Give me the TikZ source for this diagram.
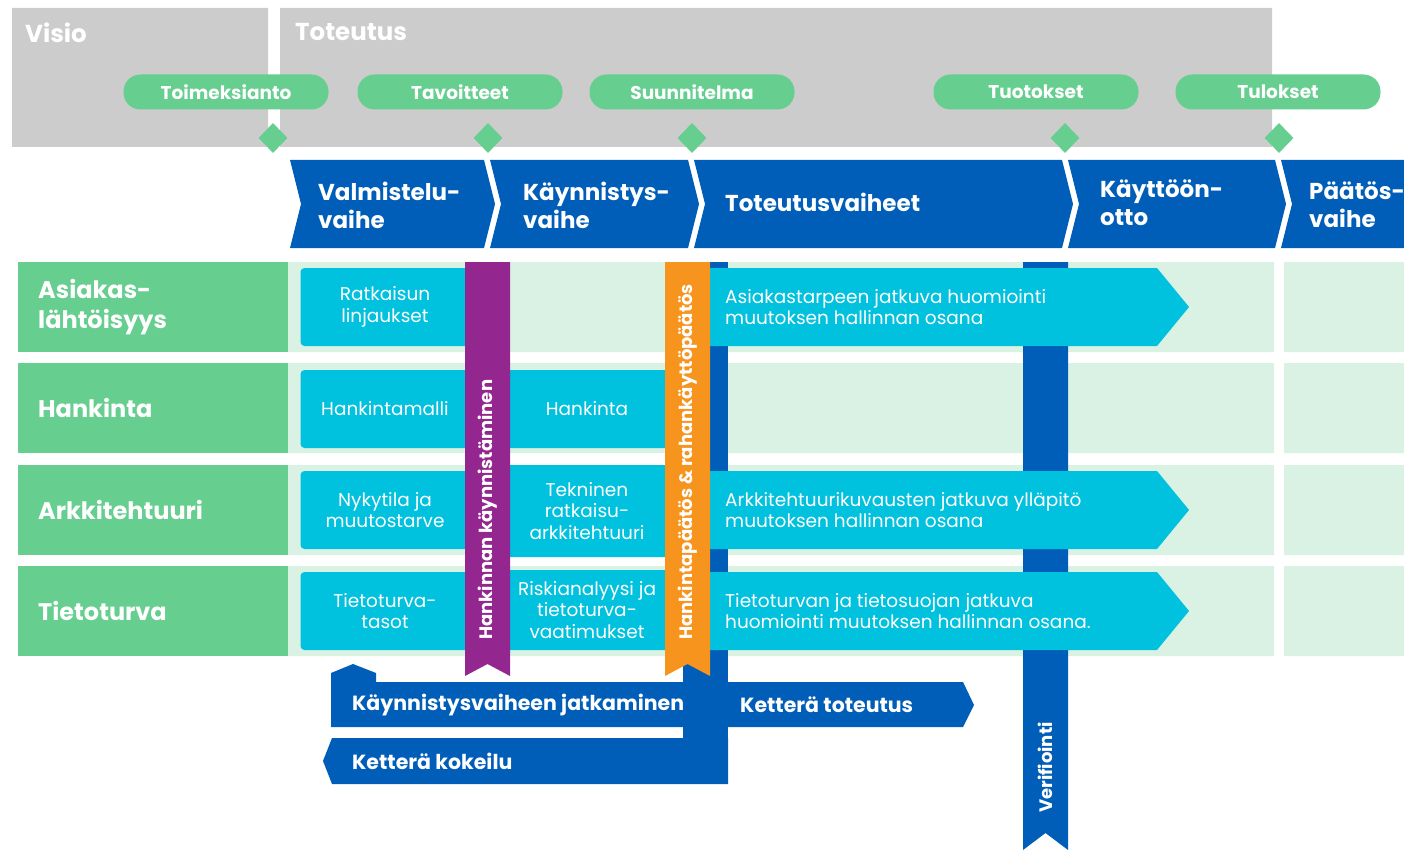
\documentclass[tikz,border=0pt]{standalone}
\usepackage{fontspec}
\setmainfont{Poppins}
\usetikzlibrary{shapes.geometric}
\definecolor{vgray}{RGB}{204,204,204}
\definecolor{vgreen}{RGB}{102,206,143}
\definecolor{vpale}{RGB}{217,242,227}
\definecolor{vblue}{RGB}{0,94,184}
\definecolor{vcyan}{RGB}{0,193,222}
\definecolor{vpurple}{RGB}{147,38,143}
\definecolor{vorange}{RGB}{247,148,29}
\tikzset{
  toptitle/.style={anchor=west, inner sep=0pt, text=white, font=\bfseries\fontsize{24.5}{28}\selectfont},
  phase/.style={anchor=west, inner sep=0pt, text=white, align=left, font=\bfseries\fontsize{23}{28}\selectfont},
  pill/.style={fill=vgreen, rounded corners=17pt, minimum width=205pt, minimum height=35pt, inner sep=0pt, text=white, font=\bfseries\fontsize{18.5}{20}\selectfont},
  gem/.style={diamond, fill=vgreen, minimum width=29pt, minimum height=30pt, inner sep=0pt},
  rowhead/.style={anchor=west, inner sep=0pt, text=white, align=left, font=\bfseries\fontsize{24}{30}\selectfont},
  cell/.style={fill=vcyan, rounded corners=4pt, inner sep=0pt, text=white, align=center, font=\fontsize{18.5}{21.5}\selectfont},
  flow/.style={anchor=west, inner sep=0pt, text=white, align=left, font=\fontsize{18.5}{21.5}\selectfont},
  bandtext/.style={rotate=90, anchor=west, inner sep=0pt, text=white, font=\bfseries\fontsize{18}{20}\selectfont},
  barlabel/.style={anchor=west, inner sep=0pt, text=white, font=\bfseries\fontsize{20.5}{22}\selectfont}
}
\begin{document}
\begin{tikzpicture}[x=1pt,y=-1pt]
\useasboundingbox (0,0) rectangle (1404,850);
\fill[vgray] (12,8) rectangle (268,147) (280,8) rectangle (1272,147);
\node[toptitle] (visio) at (25,33) {Visio};
\node[toptitle] (toteutus) at (295,32) {Toteutus};
\foreach \x/\n/\t in {226/toim/Toimeksianto, 460/tav/Tavoitteet, 692/suun/Suunnitelma, 1036/tuot/Tuotokset, 1278/tul/Tulokset}
  \node[pill] (\n) at (\x,92) {\t};
\foreach \x/\n in {273/g1, 488/g2, 692/g3, 1065/g4, 1279/g5}
  \node[gem] (\n) at (\x,138) {};

\foreach \a/\b in {290/484, 490/688, 694/1062, 1068/1275, 1281/1420}
  \fill[vblue] (\a,160) -- (\b,160) -- (\b+11,204) -- (\b,248) -- (\a,248) -- (\a+11,204) -- cycle;
\node[phase] (valm) at (318,205) {Valmistelu-\\vaihe};
\node[phase] (kayn) at (523,205) {Käynnistys-\\vaihe};
\node[phase] (tote) at (725,202) {Toteutusvaiheet};
\node[phase] (kayt) at (1100,203) {Käyttöön-\\otto};
\node[phase] (paat) at (1309,205) {Päätös-\\vaihe};

\foreach \y/\n/\t in {262/asia/{Asiakas-\\lähtöisyys}, 363/hank/Hankinta, 465/arkk/Arkkitehtuuri, 566/tiet/Tietoturva} {
  \fill[vpale] (288,\y) rectangle (1274,\y+90) (1284,\y) rectangle (1404,\y+90);
  \fill[vgreen] (18,\y) rectangle (288,\y+90);
  \node[rowhead] (\n) at (38,\y+45) {\t};
}

\fill[vblue] (683,262) rectangle (728,784);
\fill[vblue] (1023,262) -- (1068,262) -- (1068,850) -- (1045.5,833) -- (1023,850) -- cycle;
\node[bandtext] (veri) at (1045,813) {Verifiointi};

\node[cell, minimum width=169pt, minimum height=78pt] (ratk) at (385,307) {Ratkaisun\\linjaukset};
\node[cell, minimum width=169pt, minimum height=78pt] (malli) at (385,409) {Hankintamalli};
\node[cell, minimum width=169pt, minimum height=78pt] (nyky) at (385,510) {Nykytila ja\\muutostarve};
\node[cell, minimum width=169pt, minimum height=78pt] (ttas) at (385,611) {Tietoturva-\\tasot};
\node[cell, minimum width=165pt, minimum height=78pt] (hkin) at (587,409) {Hankinta};
\node[cell, minimum width=165pt, minimum height=92pt] (tekn) at (587,511) {Tekninen\\ratkaisu-\\arkkitehtuuri};
\node[cell, minimum width=165pt, minimum height=80pt] (risk) at (587,610) {Riskianalyysi ja\\tietoturva-\\vaatimukset};

\foreach \y/\n/\t in {262/asto/{Asiakastarpeen jatkuva huomiointi\\muutoksen hallinnan osana}, 465/arto/{Arkkitehtuurikuvausten jatkuva ylläpitö\\muutoksen hallinnan osana}, 566/tito/{Tietoturvan ja tietosuojan jatkuva\\huomiointi muutoksen hallinnan osana.}} {
  \fill[vcyan] (705,\y+6) -- (1157,\y+6) -- (1189,\y+45) -- (1157,\y+84) -- (705,\y+84) -- cycle;
  \node[flow] (\n) at (725,\y+45) {\t};
}

\fill[vpurple] (465,262) -- (510,262) -- (510,676) -- (487.5,664) -- (465,676) -- cycle;
\node[bandtext] (hkay) at (488,640) {Hankinnan käynnistäminen};
\fill[vorange] (665,262) -- (710,262) -- (710,676) -- (687.5,664) -- (665,676) -- cycle;
\node[bandtext] (hpaa) at (688,640) {Hankintapäätös \& rahankäyttöpäätös};

\fill[vblue] (331,727) -- (331,673) -- (353,664) -- (376,673) -- (376,682) -- (963,682) -- (974,705) -- (963,727) -- cycle;
\fill[vblue] (332,738) -- (728,738) -- (728,784) -- (332,784) -- (323,761) -- cycle;
\node[barlabel] (jatk) at (352,705) {Käynnistysvaiheen jatkaminen};
\node[barlabel] (ktot) at (740,705) {Ketterä toteutus};
\node[barlabel] (kkok) at (352,761) {Ketterä kokeilu};
\end{tikzpicture}
\end{document}
